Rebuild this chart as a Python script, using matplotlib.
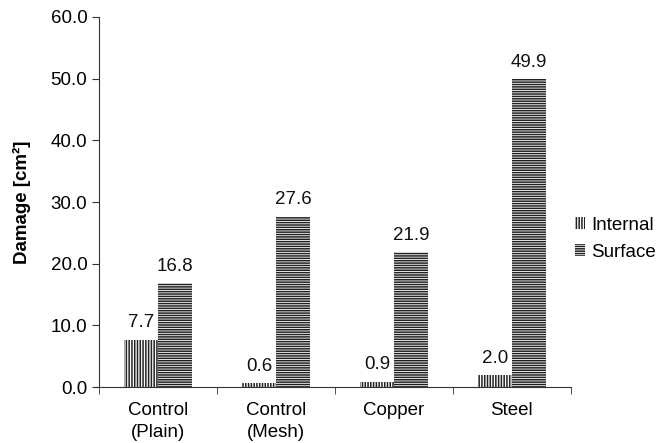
import numpy as np
import matplotlib
matplotlib.use("Agg")
import matplotlib.pyplot as plt

plt.rcParams['font.family'] = ['Liberation Sans', 'DejaVu Sans']
plt.rcParams['hatch.linewidth'] = 1.1

categories = ["Control\n(Plain)", "Control\n(Mesh)", "Copper", "Steel"]
internal = [7.7, 0.6, 0.9, 2.0]
surface = [16.8, 27.6, 21.9, 49.9]

fs = 13.5

fig = plt.figure(figsize=(6.56, 4.43), dpi=100)
ax = fig.add_axes([0.151, 0.126, 0.719, 0.836])

x = np.arange(len(categories))
w = 0.288

b1 = ax.bar(x - w / 2, internal, w, color='white', edgecolor='#222222',
            linewidth=0, hatch='||||||', label='Internal')
b2 = ax.bar(x + w / 2, surface, w, color='white', edgecolor='#222222',
            linewidth=0, hatch='-------', label='Surface')

for bars, vals in ((b1, internal), (b2, surface)):
    for r, v in zip(bars, vals):
        ax.annotate(f"{v:.1f}", (r.get_x() + r.get_width() / 2, v),
                    xytext=(0, 6), textcoords='offset points',
                    ha='center', va='bottom', fontsize=fs, color='#111111')

ax.set_xlim(-0.5, len(categories) - 0.5)
ax.set_ylim(0, 60)
ax.set_yticks(np.arange(0, 61, 10))
ax.set_yticklabels([f"{t:.1f}" for t in np.arange(0, 61, 10)], fontsize=fs)
ax.set_xticks(x)
ax.set_xticklabels(categories, fontsize=fs, linespacing=1.35)
ax.tick_params(axis='x', length=0, pad=11)
ax.set_xticks(np.arange(-0.5, len(categories)), minor=True)
ax.tick_params(axis='x', which='minor', length=5, color='#333333')
ax.tick_params(axis='y', length=5, color='#333333')

ax.spines['top'].set_visible(False)
ax.spines['right'].set_visible(False)
ax.spines['left'].set_color('#333333')
ax.spines['bottom'].set_color('#333333')
ax.spines['bottom'].set_bounds(-0.5 - 0.03, len(categories) - 0.5)

ax.set_ylabel("Damage [cm²]", fontsize=fs, fontweight='bold', labelpad=14)

ax.legend(loc='center left', bbox_to_anchor=(1.009, 0.401), frameon=False,
          fontsize=fs, handlelength=0.55, handleheight=0.6, handletextpad=0.3,
          labelspacing=0.55, borderpad=0, borderaxespad=0)

fig.savefig("out.png", dpi=100)
